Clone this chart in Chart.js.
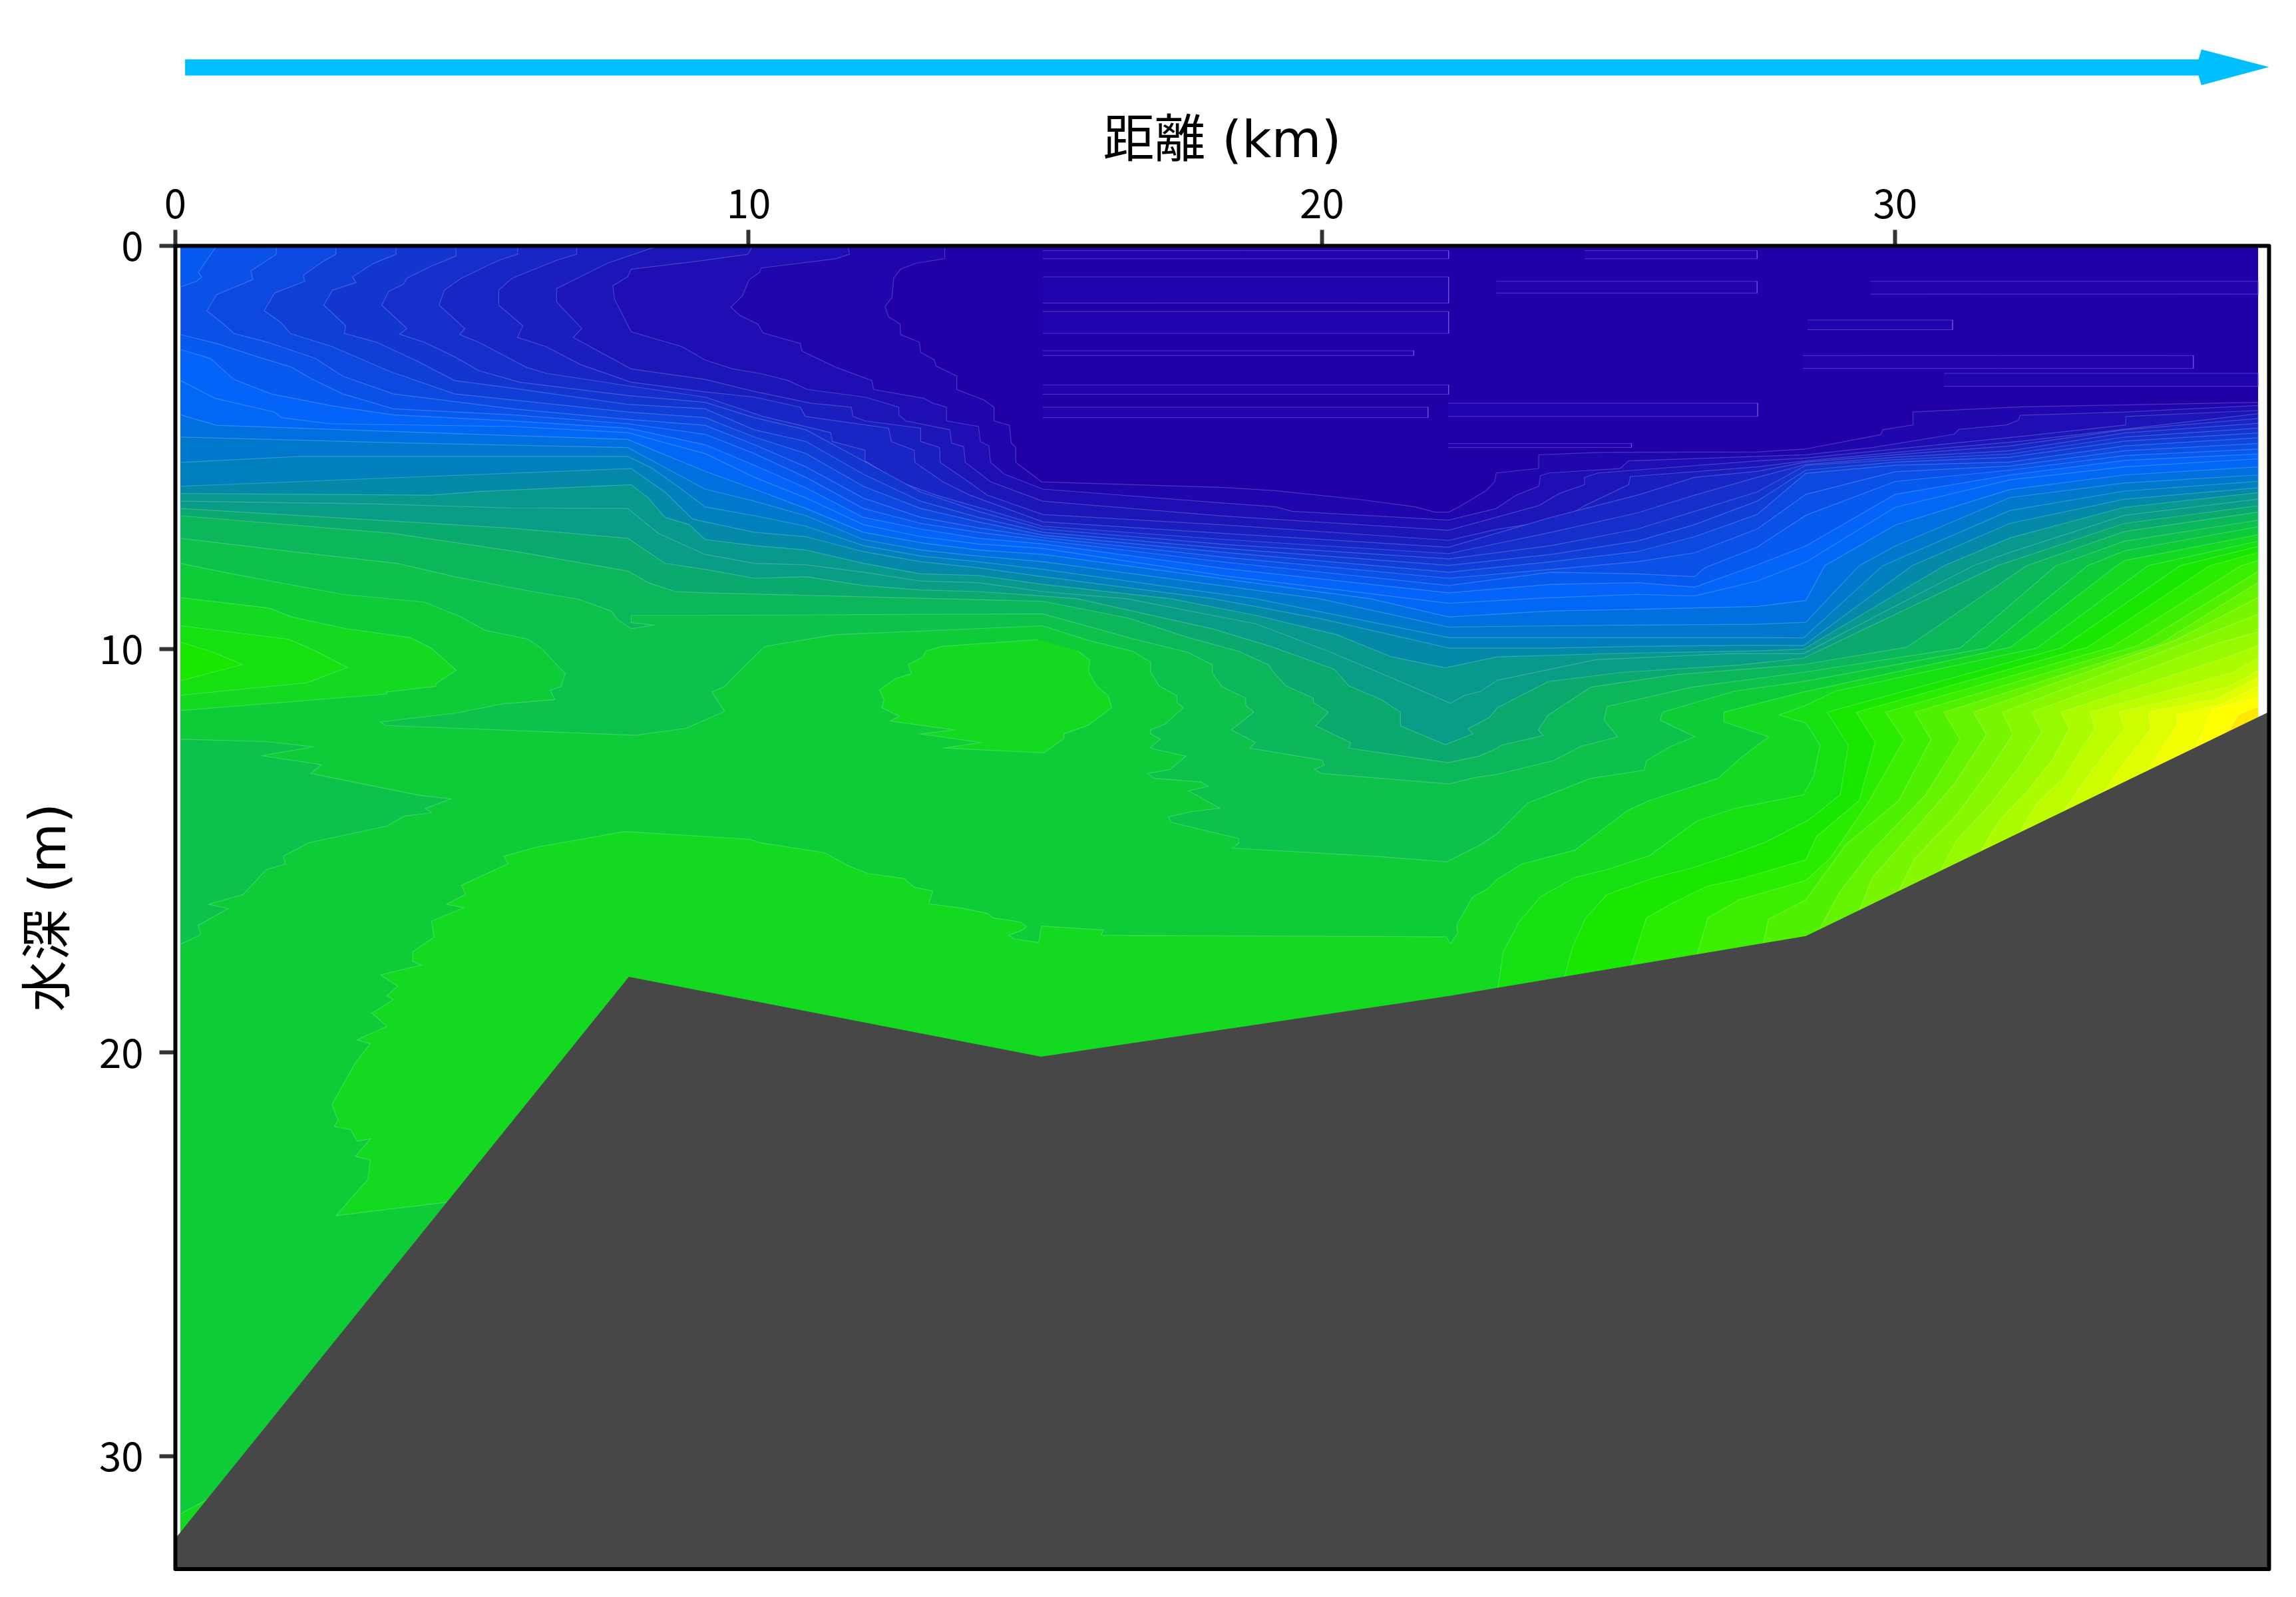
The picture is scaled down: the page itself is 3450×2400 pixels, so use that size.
<!DOCTYPE html>
<html><head><meta charset="utf-8">
<style>html,body{margin:0;padding:0;background:#fff}canvas{display:block}</style>
<script src="https://cdn.jsdelivr.net/npm/chart.js@4"></script>
</head><body><canvas id="c" width="3450" height="2400"></canvas>
<script>
const xLabel='距離 (km)', yLabel='水深 (m)';
const xTicksStep=10, yTicksStep=10, xMax=36.52, yMax=32.8;
const leftEdge=0.09, rightEdge=36.33, floorDepth=33;
const seabed=[[0,32.04],[7.91,18.12],[15.1,20.1],[22.2,18.6],[28.44,17.11],[36.52,11.55],[36.52,32.8],[0,32.8]];
const arrowShape=[[0.17,-4.62],[35.29,-4.62],[35.34,-4.87],[36.52,-4.43],[35.34,-3.98],[35.29,-4.22],[0.17,-4.22]];

const level01=[[13.42,0],[13.42,.32],[12.92,.43],[12.65,.58],[12.53,.8],[12.5,1.28],[12.38,1.5],[12.44,1.76],[12.64,1.94],[12.65,2.2],[12.98,2.39],[13,2.64],[13.24,2.83],[13.27,2.98],[13.63,3.23],[13.63,3.56],[14.1,3.82],[14.28,4],[14.28,4.34],[14.55,4.45],[14.58,4.89],[14.66,5],[14.66,5.37],[15.11,5.85],[18.3,5.99],[19.19,6.07],[20.67,6.29],[21.62,6.47],[21.97,6.6],[22.21,6.6],[22.39,6.47],[22.86,6.07],[23.01,5.85],[23.04,5.63],[23.78,5.52],[23.78,5.18],[24.82,5.12],[27.59,5.11],[28.42,5.04],[29.75,4.68],[29.78,4.56],[30.31,4.44],[30.31,4.12],[32.21,3.99],[36.33,3.88]];
const level02=[[11.73,0],[11.76,.21],[11.52,.32],[10.22,.55],[10.19,.66],[10.01,.84],[9.89,1.24],[9.69,1.52],[9.84,1.72],[10.16,1.94],[10.25,2.16],[10.9,2.42],[10.93,2.61],[11.52,3.01],[12.15,3.34],[12.18,3.56],[13.06,3.78],[13.21,3.9],[13.45,4],[13.45,4.34],[14.01,4.48],[14.04,4.85],[14.19,4.96],[14.22,5.37],[14.46,5.66],[15.13,6.03],[18.3,6.38],[19.19,6.47],[19.48,6.58],[22.21,6.8],[23.04,6.51],[23.39,6.18],[23.78,5.96],[23.81,5.7],[23.96,5.63],[25.2,5.52],[25.35,5.33],[27.59,5.22],[28.44,5.18],[29.6,5],[31.03,4.67],[31.11,4.55],[31.94,4.44],[32.15,4.32],[32.18,4.2],[34.02,4.12],[36.33,3.96]];
const level03=[[10.07,0],[9.99,.21],[9.125,.38],[7.95,.58],[7.89,.77],[7.63,.99],[7.66,1.32],[7.95,2.13],[8.84,2.5],[9.24,2.83],[9.72,3.05],[10.19,3.16],[10.69,3.34],[11.02,3.56],[12.03,3.75],[12.62,4],[12.62,4.19],[12.74,4.34],[13.51,4.56],[13.54,4.89],[13.75,4.98],[13.78,5.37],[14.22,5.85],[15.13,6.33],[18.3,6.7],[22.21,7.05],[23.04,6.73],[23.78,6.44],[24.14,6.14],[24.58,5.92],[24.58,5.74],[24.82,5.63],[27.59,5.33],[28.44,5.26],[30,5.04],[32.21,4.72],[34.02,4.44],[34.02,4.23],[36.33,4.08]];
const level04=[[8.43,0],[7.54,.43],[6.65,1.06],[6.65,1.39],[7.09,2.05],[6.94,2.27],[7.95,3.05],[9.24,3.31],[10.07,3.6],[11.08,3.9],[11.79,4],[11.82,4.23],[12.03,4.34],[13,4.52],[13,4.85],[13.33,5],[13.34,5.37],[13.8,5.81],[14.16,6.18],[15.13,6.66],[18.3,6.92],[22.21,7.3],[23.04,7.03],[24.22,6.77],[24.58,6.44],[25.35,5.92],[25.38,5.72],[27.59,5.48],[28.44,5.33],[30,5.12],[32.21,4.84],[36.33,4.16]];
const level05=[[7,0],[7,.21],[6.65,.36],[5.88,.8],[5.64,1.1],[5.64,1.47],[6.06,1.98],[5.97,2.27],[6.47,2.5],[7.06,2.94],[7.95,3.38],[9.24,3.62],[10.1,3.75],[10.9,4],[10.99,4.23],[12.44,4.52],[12.49,4.85],[12.89,5.07],[12.9,5.37],[13.39,5.85],[13.86,6.18],[14.28,6.4],[15.13,6.84],[18.3,7.13],[22.21,7.47],[24,6.73],[25.5,6.18],[26.5,5.74],[27.59,5.59],[28.44,5.36],[30,5.18],[32,4.96],[34,4.56],[36.33,4.28]];
const level06=[[5.97,0],[5.97,.21],[5.64,.36],[4.99,.8],[4.69,1.1],[4.6,1.47],[5.05,2.05],[4.96,2.2],[5.29,2.39],[6.12,3.01],[6.47,3.16],[7.89,3.47],[9.24,3.75],[10.25,4.23],[11.43,4.63],[11.46,4.85],[12.03,5.07],[12.03,5.33],[12.62,5.85],[13.27,6.18],[13.8,6.4],[15.13,6.95],[18.3,7.28],[22.21,7.63],[24,7.1],[25.5,6.62],[26.5,6.18],[27.59,5.74],[28.44,5.42],[30,5.24],[32,5.08],[34,4.64],[36.33,4.4]];
const level07=[[4.89,0],[4.9,.25],[4.46,.51],[4.04,.8],[3.98,.95],[3.72,1.13],[3.6,1.47],[4.04,2.05],[3.91,2.19],[4.34,2.39],[4.87,2.75],[5.29,3.09],[6,3.38],[7.89,3.71],[9.24,3.88],[10.1,4.26],[11,4.56],[12,5.33],[13,6.1],[14,6.58],[15.13,7.02],[18.3,7.4],[22.21,7.76],[24,7.43],[25.5,7.02],[26.5,6.58],[27.59,6.1],[28.44,5.44],[30,5.3],[32,5.16],[34,4.74],[36.33,4.52]];
const level08=[[3.85,0],[3.85,.21],[3.45,.44],[3.09,.77],[3.15,.91],[2.74,1.1],[2.59,1.47],[2.97,1.98],[2.95,2.17],[3.51,2.39],[4.22,2.86],[4.87,3.34],[5.88,3.53],[7.89,3.93],[9.24,4.04],[10.1,4.56],[11,4.85],[12,5.66],[13,6.33],[14,6.73],[15.13,7.1],[18.3,7.5],[22.21,7.92],[24,7.65],[25.5,7.32],[26.5,6.91],[27.59,6.33],[28.44,5.56],[30,5.36],[32,5.24],[34,4.84],[36.33,4.64]];
const level09=[[2.8,0],[2.8,.21],[2.56,.4],[2.23,.73],[2.26,.88],[1.73,1.17],[1.55,1.61],[1.85,1.91],[2,2.17],[2.74,2.5],[3.75,3.12],[4.87,3.67],[7.89,4.12],[9.24,4.26],[10.1,4.74],[11,5.15],[12,5.96],[13,6.51],[14,6.84],[15.13,7.17],[18.3,7.6],[22.21,8.09],[24,7.83],[25.5,7.58],[26.5,7.21],[27.59,6.66],[28.44,5.64],[30,5.44],[32,5.36],[34,4.96],[36.33,4.76]];
const level10=[[1.76,0],[1.76,.21],[1.32,.62],[1.35,.84],[.72,1.21],[.55,1.61],[.84,1.94],[1.02,2.17],[1.61,2.39],[2.44,2.79],[2.92,3.23],[3.8,3.67],[5.88,4.04],[7.89,4.3],[9.24,4.45],[10.1,4.93],[11,5.48],[12,6.25],[13,6.73],[14,6.99],[15.13,7.23],[18.3,7.72],[22.21,8.24],[24,8.02],[25.5,7.83],[26.5,7.61],[27.59,7.02],[28.44,6.16],[30,5.6],[32,5.46],[34,5.08],[36.33,4.9]];
const level11corner=[[.09,0],[.72,0],[.4,.66],[.46,.77],[.37,.88],[.09,1.02]];
const level11=[[.09,2.2],[.72,2.42],[1.43,2.75],[2.03,3.01],[2.38,3.3],[2.92,3.67],[3.8,4.04],[5.88,4.19],[7.89,4.41],[9.24,4.67],[10.1,5.15],[11,5.74],[12,6.51],[13,6.88],[14,7.1],[15.13,7.3],[18.3,7.84],[22.21,8.42],[24,8.09],[25.5,8.13],[26.5,8.2],[26.68,7.98],[27.59,7.47],[28.44,6.68],[30,5.84],[32,5.56],[34,5.2],[36.33,5.04]];
const level12=[[.09,2.57],[.61,2.79],[1.02,3.31],[1.67,3.67],[2.74,3.97],[3.8,4.19],[5.88,4.34],[7.89,4.52],[9.24,4.93],[10.1,5.44],[11,6],[12,6.73],[13,7.02],[14,7.25],[15.13,7.39],[18.3,8],[22.21,8.6],[24,8.39],[25.5,8.35],[26.5,8.46],[27.59,7.91],[28.44,7.44],[30,6.16],[32,5.68],[34,5.32],[36.33,5.16]];
const level13=[[.09,3.34],[.69,3.78],[1.73,4.12],[1.85,4.26],[2.68,4.41],[5.88,4.48],[7.89,4.63],[9.24,5.15],[10.1,5.74],[11,6.25],[12,6.91],[13,7.21],[14,7.39],[15.13,7.5],[18.3,8.18],[22.21,8.86],[24,8.72],[25.5,8.64],[26.5,8.68],[27.59,8.31],[28.44,7.84],[30,6.48],[32,5.8],[34,5.48],[36.33,5.28]];
const level14=[[.09,4.19],[.72,4.45],[2.92,4.56],[7.89,4.8],[9.24,5.59],[10.1,6.03],[11,6.51],[12,7.1],[13,7.36],[14,7.54],[15.13,7.65],[20.85,8.75],[22.21,9.2],[24,9.05],[25.5,9.01],[27.59,8.94],[28.44,8.79],[28.77,7.93],[30,6.92],[32,6.04],[34,5.68],[36.33,5.48]];
const level15=[[.09,4.74],[4.1,4.89],[7.89,5],[9.24,6.03],[10.1,6.33],[11,6.69],[12,7.28],[13,7.54],[14,7.69],[15.13,7.83],[19.96,8.75],[22.21,9.45],[24,9.42],[25.5,9.4],[27.59,9.38],[28.44,9.33],[29.37,7.93],[30,7.44],[32,6.24],[34,5.88],[36.33,5.68]];
const level16=[[.09,5.37],[2.2,5.22],[7.89,5.22],[8.3,5.5],[8.8,6],[9.24,6.47],[10.1,6.69],[11,6.95],[12,7.43],[13,7.69],[14,7.83],[15.13,8.02],[18.85,8.75],[22.21,9.71],[24,9.71],[25.5,9.71],[27.59,9.71],[28.4,9.72],[29.78,7.93],[32,6.56],[34,6.08],[36.33,5.84]];
const level17=[[.09,5.96],[4.69,5.7],[7.95,5.52],[8.54,6.1],[9.02,6.77],[9.24,6.84],[10.1,7.1],[11,7.21],[12,7.58],[13,7.83],[14,7.98],[15.13,8.2],[18.11,8.75],[20,9.25],[22.21,9.97],[24,9.97],[25.5,9.93],[27.59,9.9],[28.4,9.91],[30.29,7.93],[32,6.88],[34,6.28],[36.33,6]];
const level18=[[.09,6.14],[4.46,6.18],[5.29,6.09],[7.95,5.92],[8.25,6.25],[8.54,6.73],[8.96,6.91],[9.24,7.28],[10.1,7.43],[11,7.54],[12,7.87],[13,8.13],[14,8.17],[15.13,8.39],[17.37,8.75],[18.85,9.16],[20.26,9.64],[21.22,10.19],[22.15,10.46],[23.06,10.19],[25.2,10.1],[27.59,10.04],[28.4,10],[30.85,7.93],[32,7.24],[34,6.48],[36.33,6.12]];
const level19=[[.09,6.33],[3.51,6.4],[5.88,6.5],[7.89,6.51],[8.43,7.13],[9.24,7.65],[10.1,7.87],[11,7.91],[12,8.09],[13,8.31],[14,8.35],[15.13,8.57],[16.6,8.75],[18.85,9.37],[20.11,10.05],[21.15,10.67],[21.59,10.94],[22.24,11.34],[22.48,11.15],[22.77,11.04],[23.06,10.77],[24.78,10.26],[27.1,10.11],[28.4,10.11],[31.36,7.93],[32,7.6],[34,6.68],[36.33,6.28]];
const level20=[[.09,6.51],[3.51,6.8],[5.88,7],[7.89,7.25],[8.54,7.87],[9.24,8.02],[10.1,8.24],[11,8.2],[12,8.42],[13,8.53],[14,8.57],[15.13,8.68],[15.74,8.75],[18.11,9.5],[19.15,9.95],[20.22,10.5],[20.47,10.91],[21.04,11.25],[21.37,11.56],[21.37,11.9],[22.15,12.36],[22.63,12.1],[22.55,11.97],[22.92,11.69],[23.06,11.45],[23.95,10.8],[25.25,10.57],[27.28,10.39],[28.4,10.22],[31.78,7.93],[34,6.88],[36.33,6.44]];
const level21=[[.09,6.69],[3.8,7.13],[5.94,7.58],[7.89,8.06],[8.25,8.35],[8.72,8.57],[9.24,8.6],[15.13,8.81],[16.63,9.23],[17.67,9.71],[18.55,10.05],[19.07,10.39],[19.15,10.56],[19.37,10.91],[19.85,11.21],[19.85,11.32],[20.11,11.56],[19.89,11.9],[20.5,12.31],[20.47,12.45],[22.2,12.81],[22.74,12.65],[23.06,12.45],[23.12,12.38],[23.86,12.14],[23.77,12],[23.95,11.63],[24.69,10.94],[26.17,10.63],[28.4,10.38],[30.2,9.95],[32.29,7.93],[34,7.08],[36.33,6.6]];
const level22=[[.09,7.25],[2.03,7.58],[3.87,7.87],[4.87,8.2],[6.23,8.57],[7.03,8.76],[7.6,9.05],[7.72,9.27],[7.95,9.49],[8.34,9.4],[7.95,9.34],[7.95,9.16],[9.24,9.16],[15.13,9.12],[16.7,9.74],[17.67,10.08],[18.09,10.39],[18.09,10.6],[18.26,10.93],[18.67,11.21],[18.67,11.39],[18.81,11.56],[18.42,12],[18.84,12.31],[18.74,12.45],[20,12.75],[20.04,12.87],[19.87,12.98],[20,13.08],[22.22,13.34],[22.63,13.19],[23.06,13.1],[24.04,12.76],[24.51,12.41],[25.16,12.17],[24.92,11.76],[24.97,11.42],[26.45,10.94],[28.4,10.57],[31.13,9.97],[32.8,7.93],[34,7.32],[36.33,6.8]];
const level23=[[.09,7.87],[.84,8.09],[2.92,8.64],[4.34,8.83],[4.99,9.2],[5.4,9.53],[6.15,9.75],[6.38,9.97],[6.8,10.6],[6.73,10.92],[6.54,11.02],[6.62,11.25],[5.73,11.35],[4.91,11.58],[3.58,11.8],[3.66,11.89],[8.02,12.13],[8.91,11.96],[9.58,11.54],[9.36,11.06],[9.58,10.92],[9.88,10.49],[10.28,9.93],[11.49,9.64],[15.13,9.42],[15.93,9.78],[16.7,10.05],[17.01,10.32],[17.01,10.56],[17.16,10.91],[17.47,11.15],[17.47,11.32],[17.58,11.45],[17.26,11.86],[17.01,12],[17.01,12.1],[17.18,12.23],[17,12.45],[17.63,12.65],[17.35,12.98],[16.96,13.08],[17.07,13.2],[17.89,13.29],[18.02,13.4],[17.67,13.51],[18.22,13.94],[17.7,14.03],[17.32,14.16],[17.37,14.29],[18.54,14.69],[18.55,14.81],[18.44,14.93],[20.89,15.13],[22.18,15.27],[22.77,14.84],[23.06,14.57],[23.58,13.82],[24.69,13.2],[25.62,13],[25.66,12.76],[26.08,12.41],[26.5,12.17],[25.9,11.76],[25.94,11.56],[27.19,11.04],[28.4,10.8],[31.59,9.97],[33.35,7.93],[34,7.56],[36.33,6.96]];
const tongue22=[[.09,12.23],[1.58,12.29],[2.4,12.42],[1.51,12.64],[2.55,12.86],[2.36,13.08],[4.25,13.62],[4.8,13.71],[4.36,13.95],[4.47,14.05],[3.99,14.14],[3.69,14.38],[2.32,14.8],[1.88,15.13],[1.92,15.32],[1.58,15.47],[1.18,16.08],[.58,16.32],[.92,16.43],[.4,16.84],[.44,17.08],[.09,17.31]];
const level24=[[4.77,23.7],[2.8,24.04],[3.36,23.14],[3.4,22.66],[3.14,22.57],[3.4,22.14],[3.17,22.19],[3.06,21.91],[2.77,21.83],[2.84,21.67],[2.73,21.29],[3.14,20.25],[3.4,19.78],[3.17,19.68],[3.69,19.35],[3.43,19.02],[3.8,18.69],[3.69,18.59],[3.88,18.35],[3.58,18.07],[4.29,17.83],[4.14,17.74],[4.14,17.5],[4.51,17.14],[4.47,16.74],[5.03,16.41],[4.73,16.32],[5.06,16.08],[4.99,15.85],[5.8,15.32],[5.73,15.13],[6.32,14.9],[7.84,14.52],[10.02,14.71],[10.21,14.8],[11.32,15.04],[11.71,15.35],[12.08,15.56],[12.71,15.68],[12.89,15.9],[13.21,15.99],[13.14,16.31],[13.74,16.42],[14.17,16.55],[14.26,16.66],[14.74,16.76],[14.85,16.88],[14.78,16.96],[14.54,17.09],[14.63,17.18],[15.06,17.27],[15.11,16.86],[16.19,16.96],[16.15,17.09],[22.17,17.13],[22.24,17.3],[22.37,17.03],[22.35,16.83],[22.63,16.14],[22.89,15.94],[23.06,15.7],[23.49,15.32],[24.41,14.98],[25.34,13.99],[25.71,13.75],[26.91,13.2],[27.28,12.72],[27.79,12.17],[27.01,11.8],[27.01,11.56],[28.4,11.06],[32.01,9.95],[33.86,7.93],[34,7.8],[36.33,7.16]];
const blob24left=[[.09,8.72],[1.64,8.98],[2.03,9.2],[2.98,9.49],[4.1,9.71],[4.46,9.97],[4.9,10.52],[4.55,10.85],[4.54,10.92],[3.69,11.06],[3.69,11.11],[.09,11.52]];
const blob24middle=[[15.05,9.76],[13.37,9.93],[13.09,10.05],[13.04,10.19],[12.78,10.38],[12.84,10.6],[12.56,10.73],[12.28,11.01],[12.36,11.25],[12.32,11.45],[12.63,11.66],[12.47,11.78],[13.58,12],[13,12.1],[14.04,12.31],[13.41,12.45],[15.15,12.57],[15.5,12.21],[15.5,12.1],[15.93,11.88],[16.33,11.45],[16.27,11.15],[16.07,10.91],[15.93,10.56],[15.95,10.27],[15.74,10.04]];
const corner24=[[.09,31.43],[.59,31.05],[1,31.05],[1,33],[.09,33]];
const blob25left=[[.09,9.42],[1.97,9.75],[2.44,10.04],[3,10.45],[2.32,10.82],[2.29,10.83],[.09,11.14]];
const blob26left=[[.09,9.82],[.67,10.08],[1.17,10.38],[.09,10.78]];
const level25=[[23.07,18.4],[23.16,17.51],[23.44,16.76],[23.81,16.14],[24.41,15.66],[24.97,15.46],[25.71,15.12],[26.54,14.26],[27.19,13.95],[28.4,13.61],[28.58,13.13],[28.69,12.38],[28.44,11.83],[27.98,11.63],[28.44,11.39],[28.95,11.04],[32.47,9.97],[34.41,7.93],[36.33,7.32]];
const level26=[[24.23,18.13],[24.37,17.38],[24.6,16.66],[24.97,16.08],[25.8,15.66],[26.45,15.42],[27.1,15.12],[27.75,14.77],[28.49,14.23],[29.04,13.61],[29.18,12.38],[28.81,11.56],[32.89,9.97],[34.97,7.93],[36.33,7.45]];
const level27=[[25.39,17.85],[25.66,16.66],[26.13,16.28],[26.73,15.87],[27.28,15.7],[28.44,15.22],[28.63,14.64],[29.37,13.75],[29.65,12.31],[29.32,11.56],[33.35,9.95],[35.48,7.93],[36.33,7.6]];
const level28=[[26.54,17.58],[26.73,16.66],[27.28,16.21],[28.44,15.73],[28.86,15.19],[29.55,13.75],[30.15,12.24],[29.83,11.56],[33.77,9.95],[36.03,7.93],[36.33,7.8]];
const level29=[[27.7,17.27],[27.79,16.69],[28.44,16.21],[29.14,14.84],[30.06,13.75],[30.62,12.24],[30.34,11.56],[34.23,9.91],[36.33,8.07]];
const level30=[[28.67,16.96],[29.04,16],[29.6,14.98],[30.53,13.61],[31.13,12.24],[30.85,11.56],[34.6,9.88],[36.33,8.34]];
const level31=[[29.37,16.49],[29.6,15.66],[30.15,14.77],[31.03,13.34],[31.59,12.11],[31.36,11.56],[34.88,9.78],[36.33,8.72]];
const level32=[[30.06,16],[30.34,15.19],[31.08,14.09],[31.64,13],[32.05,12.11],[31.87,11.56],[35.25,9.74],[36.33,9.13]];
const level33=[[30.8,15.46],[31.08,14.71],[31.64,13.88],[32.19,12.86],[32.56,12.04],[32.38,11.56],[35.62,9.85],[36.33,9.57]];
const level34=[[31.5,14.98],[31.82,14.23],[32.29,13.54],[32.75,12.72],[33.03,11.97],[32.89,11.56],[35.8,10.19],[36.33,9.91]];
const level35=[[32.19,14.5],[32.47,13.82],[32.93,13.2],[33.26,12.45],[33.49,11.97],[33.4,11.56],[35.9,10.57],[36.33,10.22]];
const level36=[[32.93,14.02],[33.26,13.34],[33.58,12.72],[34,11.97],[33.9,11.56],[35.8,10.94],[36.33,10.53]];
const level37=[[33.63,13.54],[34.04,12.72],[34.46,11.97],[34.41,11.56],[35.62,11.22],[36.33,10.7]];
const level38=[[34.37,13.06],[34.69,12.38],[34.92,11.83],[34.92,11.63],[35.71,11.35],[36.33,10.91]];
const level39=[[35.25,12.41],[35.53,11.49],[36.33,11.2]];
const level40=[[35.8,12.04],[35.99,11.63],[36.33,11.42]];

const faint01=[[15.13,.77],[22.21,.77],[22.21,1.42],[15.13,1.42]];
const faint02=[[15.13,1.63],[22.21,1.63],[22.21,2.17],[15.13,2.17]];
const faint03=[[15.13,2.6],[21.6,2.6],[21.6,2.72],[15.13,2.72]];
const faint04=[[15.13,3.45],[22.21,3.45],[22.21,3.68],[15.13,3.68]];
const faint05=[[15.13,4],[21.85,4],[21.85,4.26],[15.13,4.26]];
const faint06=[[22.2,3.9],[27.6,3.9],[27.6,4.23],[22.2,4.23]];
const faint07=[[22.2,4.9],[25.4,4.9],[25.4,5],[22.2,5]];
const faint08=[[29.57,.88],[36.33,.88],[36.33,1.2],[29.57,1.2]];
const faint09=[[28.47,1.84],[31,1.84],[31,2.08],[28.47,2.08]];
const faint10=[[28.39,2.72],[35.2,2.72],[35.2,3.04],[28.39,3.04]];
const faint11=[[30.85,3.16],[36.33,3.16],[36.33,3.48],[30.85,3.48]];
const faint12=[[24.58,.12],[27.59,.12],[27.59,.32],[24.58,.32]];
const faint13=[[23.04,.88],[27.59,.88],[27.59,1.17],[23.04,1.17]];
const faint14=[[15.13,.12],[22.21,.12],[22.21,.32],[15.13,.32]];

const baseColor='#2200a8', faintColor='#2104ae';
const levelColors=['#2006ad','#1e0eb3','#1c16b9','#1a1ebf','#1826c5','#162ecb','#1336d1','#103fd8','#0d48e0','#0a51e8','#075af0','#0464fa','#0068f4','#0070e0','#0078cc','#0080bc','#048aa8','#09988e','#099c86','#0aaa6e','#0cb65a','#0cc24a','#0ecc38','#13d920','#15e012','#18e800','#2aec00','#3cef00','#50f100','#64f300','#78f600','#88f800','#98fa00','#acfc00','#bcfd00','#ccfe00','#e0ff00','#f2ff00','#ffff00','#ffe800'];
const levels=[level01,level02,level03,level04,level05,level06,level07,level08,level09,level10,level11,level12,level13,level14,level15,level16,level17,level18,level19,level20,level21,level22,level23,level24,level25,level26,level27,level28,level29,level30,level31,level32,level33,level34,level35,level36,level37,level38,level39,level40];
const faints=[faint01,faint02,faint03,faint04,faint05,faint06,faint07,faint08,faint09,faint10,faint11,faint12,faint13,faint14];

const contourLine='rgba(255,255,255,0.2)';
function closeLevel(pts){
  const first=pts[0];
  return first[1]===0
    ? pts.concat([[rightEdge,floorDepth],[leftEdge,floorDepth],[leftEdge,0]])
    : pts.concat([[rightEdge,floorDepth],[first[0],floorDepth]]);
}
function layer(pts,fillColor,lineColor,width){
  return {data:pts.map(p=>({x:p[0],y:p[1]})),showLine:true,fill:'shape',backgroundColor:fillColor,borderColor:lineColor,borderWidth:width,pointRadius:0,tension:0};
}
const layers=[layer([[leftEdge,0],[rightEdge,0],[rightEdge,floorDepth],[leftEdge,floorDepth]],baseColor,'rgba(0,0,0,0)',0)];
faints.forEach(f=>layers.push(layer(f,faintColor,'rgba(140,120,240,0.45)',1)));
levels.forEach((pts,i)=>{
  layers.push(layer(closeLevel(pts),levelColors[i],contourLine,1.2));
  if(i===10) layers.push(layer(level11corner,levelColors[10],contourLine,1.2));
  if(i===22) layers.push(layer(tongue22,levelColors[21],contourLine,1.2));
  if(i===23){[blob24left,blob24middle,corner24].forEach(b=>layers.push(layer(b,levelColors[23],contourLine,1.2)));}
  if(i===24) layers.push(layer(blob25left,levelColors[24],contourLine,1.2));
  if(i===25) layers.push(layer(blob26left,levelColors[25],contourLine,1.2));
});
layers.push(layer(seabed,'#474747','rgba(0,0,0,0)',0));
layers.forEach((l,i)=>{l.order=-i;});

const tickFont={family:'"Noto Sans CJK JP","Noto Sans"',size:60};
const titleFont={family:'"DejaVu Sans","Noto Sans CJK JP"',size:77};
const overlay={id:'overlay',afterDatasetsDraw(chart){
  const {ctx,chartArea:a,scales:{x,y}}=chart;
  ctx.save();
  ctx.lineWidth=6;ctx.strokeStyle='#000';ctx.lineJoin='round';
  ctx.strokeRect(a.left,a.top,a.right-a.left,a.bottom-a.top);
  ctx.fillStyle='#00bfff';
  ctx.beginPath();
  arrowShape.forEach((p,i)=>{const px=x.getPixelForValue(p[0]),py=y.getPixelForValue(p[1]);i?ctx.lineTo(px,py):ctx.moveTo(px,py);});
  ctx.closePath();ctx.fill();
  ctx.restore();
}};
new Chart(document.getElementById('c'),{
  type:'scatter',
  data:{datasets:layers},
  plugins:[overlay],
  options:{
    responsive:false,animation:false,devicePixelRatio:1,
    layout:{padding:{right:40.5,bottom:42,left:0,top:0}},
    plugins:{legend:{display:false},tooltip:{enabled:false}},
    scales:{
      x:{type:'linear',position:'top',min:0,max:xMax,
        afterFit(s){s.height=369.4;s.paddingLeft=0;s.paddingRight=0;},
        border:{display:false},
        grid:{drawOnChartArea:false,drawTicks:true,tickLength:24,tickWidth:6,tickColor:'#333'},
        ticks:{stepSize:xTicksStep,includeBounds:false,color:'#000',font:tickFont,padding:4,maxRotation:0,autoSkip:false},
        title:{display:true,text:xLabel,color:'#000',font:titleFont,padding:{top:170,bottom:0}}},
      y:{type:'linear',position:'left',reverse:true,min:0,max:yMax,
        afterFit(s){s.width=263.5;s.paddingTop=0;s.paddingBottom=0;},
        border:{display:false},
        grid:{drawOnChartArea:false,drawTicks:true,tickLength:24,tickWidth:6,tickColor:'#333'},
        ticks:{stepSize:yTicksStep,includeBounds:false,color:'#000',font:tickFont,padding:24,autoSkip:false},
        title:{display:true,text:yLabel,color:'#000',font:titleFont,padding:{top:32,bottom:0}}}
    }
  }
});
</script></body></html>
